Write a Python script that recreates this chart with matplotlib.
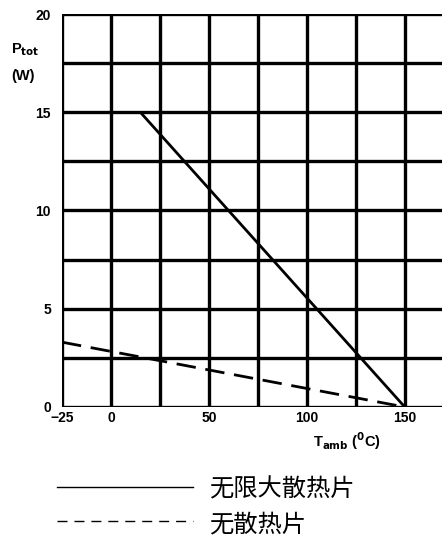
import matplotlib
matplotlib.use("Agg")
import matplotlib.pyplot as plt
import numpy as np

plt.rcParams['font.family'] = ['Liberation Sans', 'Noto Sans CJK SC', 'DejaVu Sans']

# Data
t_inf = [15, 150]          # infinite heatsink (°C)
p_inf = [15, 0]            # W
t_none = [-25, 150]        # no heatsink
p_none = [3.3, 0]
xticks = [-25, 0, 50, 100, 150]
xgrid = [-25, 0, 25, 50, 75, 100, 125, 150]
yticks = [0, 5, 10, 15, 20]
ygrid = [0, 2.5, 5, 7.5, 10, 12.5, 15, 17.5, 20]
legend_labels = ["无限大散热片", "无散热片"]

fig = plt.figure(figsize=(4.42, 5.38), dpi=100)
ax = fig.add_axes([62/442, 131/538, 1 - 62/442, (407-14)/538])
ax.set_xlim(-25, 169)
ax.set_ylim(0, 20)

for x in xgrid:
    ax.axvline(x, color='black', lw=2.4, zorder=1)
for y in ygrid:
    ax.axhline(y, color='black', lw=2.4, zorder=1)

ax.plot(t_inf, p_inf, color='black', lw=2.0, zorder=3, solid_capstyle='butt')
ax.plot(t_none, p_none, color='black', lw=2.0, zorder=3, dashes=(7, 3.5))

for s in ax.spines.values():
    s.set_visible(False)

ax.set_xticks(xticks)
ax.set_xticklabels(["\u221225", "0", "50", "100", "150"])
ax.set_yticks(yticks)
ax.tick_params(length=0, labelsize=10)
for lab in ax.get_xticklabels() + ax.get_yticklabels():
    lab.set_fontweight('bold')
ax.tick_params(axis='y', pad=8)
ax.tick_params(axis='x', pad=3)

fig.text(11/442, 1 - 50/538, r"P$_{\mathbf{tot}}$", fontsize=10.5, fontweight='bold', ha='left', va='center')
fig.text(11/442, 1 - 76/538, "(W)", fontsize=10.5, fontweight='bold', ha='left', va='center')
fig.text(313/442, 1 - 441/538, r"T$_{\mathbf{amb}}$ ($^{\mathbf{0}}$C)", fontsize=10.5, fontweight='bold', ha='left', va='center')

# Legend
fig.add_artist(plt.Line2D([57/442, 193/442], [1 - 487/538, 1 - 487/538], color='black', lw=1.0))
fig.add_artist(plt.Line2D([57/442, 193/442], [1 - 521/538, 1 - 521/538], color='black', lw=1.0, dashes=(7.2, 5)))
fig.text(209/442, 1 - 489/538, legend_labels[0], fontsize=17.5, ha='left', va='center',
         family=['Noto Sans CJK SC', 'DejaVu Sans'])
fig.text(209/442, 1 - 524/538, legend_labels[1], fontsize=17.5, ha='left', va='center',
         family=['Noto Sans CJK SC', 'DejaVu Sans'])

fig.savefig("out.png", dpi=100)
